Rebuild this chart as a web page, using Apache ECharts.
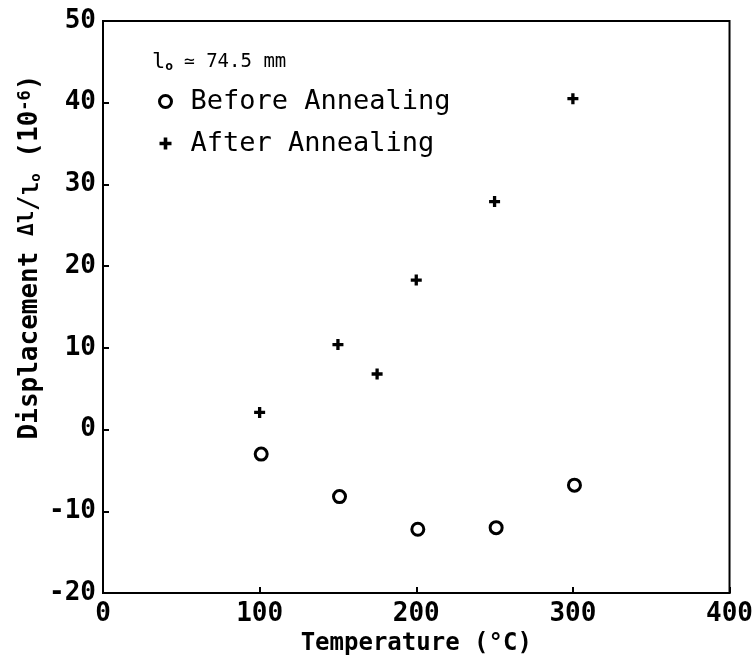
<!DOCTYPE html>
<html>
<head>
<meta charset="utf-8">
<script src="https://cdn.jsdelivr.net/npm/echarts@6/dist/echarts.min.js"></script>
<style>
html,body{margin:0;padding:0;background:#fff;}
#chart{width:756px;height:669px;}
</style>
</head>
<body>
<div id="chart"></div>
<script>
// Data
var beforeTemps = [101, 151, 201, 251, 301];
var beforeDisp  = [-3.0, -8.2, -12.2, -12.0, -6.8];
var afterTemps  = [100, 150, 175, 200, 250, 300];
var afterDisp   = [2.1, 10.4, 6.8, 18.3, 27.9, 40.5];
var xTicks = [0, 100, 200, 300, 400];
var yTicks = [-20, -10, 0, 10, 20, 30, 40, 50];
var seriesNames = ['Before Annealing', 'After Annealing'];

function pairs(xs, ys) { return xs.map(function (x, i) { return [x, ys[i]]; }); }

var FONT = 'DejaVu Sans Mono';
var plusPath = 'path://M3.5,0H6.5V3.5H10V6.5H6.5V10H3.5V6.5H0V3.5H3.5Z';

var chart = echarts.init(document.getElementById('chart'), null, {renderer: 'canvas'});
chart.setOption({
  animation: false,
  backgroundColor: '#fff',
  textStyle: {fontFamily: FONT},
  grid: {left: 103, right: 23, top: 21, bottom: 76, show: true, borderColor: '#000', borderWidth: 2, backgroundColor: 'transparent'},
  xAxis: {
    type: 'value', min: xTicks[0], max: xTicks[xTicks.length - 1], interval: 100,
    name: 'Temperature (°C)', nameLocation: 'middle', nameGap: 23,
    nameTextStyle: {color: '#000', fontSize: 24, fontFamily: FONT, fontWeight: 'bold'},
    axisLine: {show: true, onZero: false, lineStyle: {color: '#000', width: 2}},
    axisTick: {show: true, inside: true, length: 6, lineStyle: {color: '#000', width: 2}},
    axisLabel: {color: '#000', fontSize: 26, fontFamily: FONT, fontWeight: 'bold', margin: 8},
    splitLine: {show: false}
  },
  yAxis: {
    type: 'value', min: yTicks[0], max: yTicks[yTicks.length - 1], interval: 10,
    axisLine: {show: true, onZero: false, lineStyle: {color: '#000', width: 2}},
    axisTick: {show: true, inside: true, length: 6, lineStyle: {color: '#000', width: 2}},
    axisLabel: {color: '#000', fontSize: 26, fontFamily: FONT, fontWeight: 'bold', margin: 7},
    splitLine: {show: false}
  },
  legend: {
    orient: 'vertical', left: 153, top: 83, itemGap: 15,
    itemWidth: 12, itemHeight: 12,
    textStyle: {color: '#000', fontSize: 27, fontFamily: FONT, padding: [0, 0, 0, 14]},
    data: [
      {name: seriesNames[0], icon: 'circle', itemStyle: {color: '#fff', borderColor: '#000', borderWidth: 3}},
      {name: seriesNames[1], icon: plusPath, itemStyle: {color: '#000', borderWidth: 0}}
    ]
  },
  graphic: [
    {
      type: 'text', left: 152, top: 51,
      style: {
        text: '{l|l}{sub|o}{eq| ≃}{t| 74.5 mm}',
        fill: '#000',
        rich: {
          l: {fontSize: 22, fontFamily: FONT, fill: '#000'},
          sub: {fontSize: 13, fontFamily: FONT, fontWeight: 'bold', verticalAlign: 'bottom', fill: '#000'},
          eq: {fontSize: 18, fontFamily: FONT, fill: '#000'},
          t: {fontSize: 19, fontFamily: FONT, fill: '#000'}
        }
      }
    },
    {
      type: 'text', x: 30, y: 257, rotation: Math.PI / 2,
      style: {
        text: '{a|Displacement }{d|Δl}{s|/}{b|l}{sub|o}{a| (10}{sup|-6}{a|)}',
        align: 'center', verticalAlign: 'middle',
        fill: '#000',
        rich: {
          a: {fontSize: 26, fontFamily: FONT, fontWeight: 'bold', fill: '#000'},
          d: {fontSize: 21, fontFamily: FONT, fontWeight: 'bold', verticalAlign: 'top', fill: '#000'},
          s: {fontSize: 26, fontFamily: FONT, fill: '#000'},
          b: {fontSize: 22, fontFamily: FONT, fontWeight: 'bold', verticalAlign: 'bottom', fill: '#000'},
          sub: {fontSize: 14, fontFamily: FONT, fontWeight: 'bold', verticalAlign: 'bottom', fill: '#000'},
          sup: {fontSize: 17, fontFamily: FONT, fontWeight: 'bold', verticalAlign: 'top', fill: '#000'}
        }
      }
    }
  ],
  series: [
    {
      name: seriesNames[0], type: 'scatter', symbol: 'circle', symbolSize: 12,
      itemStyle: {color: '#fff', borderColor: '#000', borderWidth: 3, opacity: 1},
      data: pairs(beforeTemps, beforeDisp)
    },
    {
      name: seriesNames[1], type: 'scatter', symbol: plusPath, symbolSize: 11,
      itemStyle: {color: '#000', opacity: 1},
      data: pairs(afterTemps, afterDisp)
    }
  ]
});
</script>
</body>
</html>
